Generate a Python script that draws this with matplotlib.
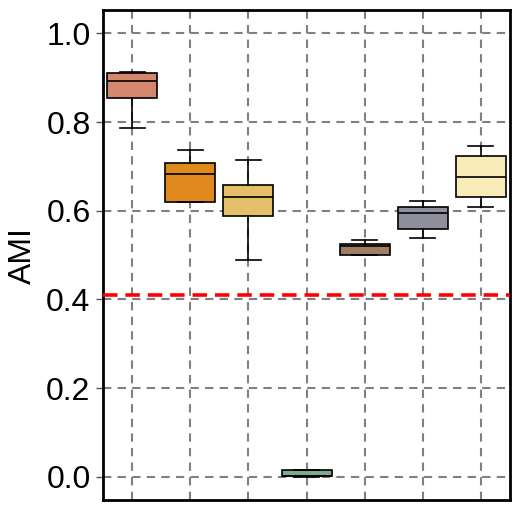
import matplotlib
matplotlib.use("Agg")
import matplotlib.pyplot as plt

plt.rcParams['font.family'] = ['Liberation Sans', 'DejaVu Sans']

# box statistics (AMI)
whislo = [0.787, 0.620, 0.490, 0.000, 0.500, 0.539, 0.608]
q1     = [0.854, 0.620, 0.589, 0.001, 0.500, 0.559, 0.631]
med    = [0.892, 0.683, 0.631, 0.003, 0.521, 0.596, 0.675]
q3     = [0.910, 0.707, 0.658, 0.015, 0.525, 0.609, 0.724]
whishi = [0.912, 0.736, 0.714, 0.016, 0.533, 0.622, 0.745]
colors = ['#d4876f', '#e08a1e', '#e4c06a', '#7faa92', '#9c7f66', '#8f8f9d', '#f7ebb7']
baseline = 0.41

stats = []
for i in range(len(med)):
    stats.append(dict(whislo=whislo[i], q1=q1[i], med=med[i], q3=q3[i],
                      whishi=whishi[i], fliers=[]))

fig = plt.figure(figsize=(5.19, 5.11), dpi=100)
ax = fig.add_axes([0.1985, 0.0215, 0.7842, 0.9585])

pos = list(range(1, len(med) + 1))
bp = ax.bxp(stats, positions=pos, widths=0.86, patch_artist=True,
            boxprops=dict(edgecolor='black', linewidth=1.2),
            medianprops=dict(color='black', linewidth=1.2),
            whiskerprops=dict(color='black', linewidth=1.2),
            capprops=dict(color='black', linewidth=1.2),
            zorder=3)
for patch, c in zip(bp['boxes'], colors):
    patch.set_facecolor(c)

ax.axhline(baseline, color='red', linestyle='--', linewidth=2.6, dashes=(4, 2.2), zorder=4)

ax.set_xlim(0.5, 7.5)
ax.set_ylim(-0.052, 1.052)
ax.set_yticks([0.0, 0.2, 0.4, 0.6, 0.8, 1.0])
ax.set_xticks(pos)
ax.set_xticklabels([])
ax.tick_params(axis='x', length=0)
ax.tick_params(axis='y', labelsize=23, length=5, width=1, pad=4, color='#555555')
ax.set_ylabel('AMI', fontsize=23, labelpad=6)
ax.grid(True, color='gray', linestyle='--', linewidth=1.5, dashes=(4, 3), zorder=0)
ax.set_axisbelow(True)
for s in ax.spines.values():
    s.set_linewidth(2)

fig.savefig('out.png', dpi=100)
